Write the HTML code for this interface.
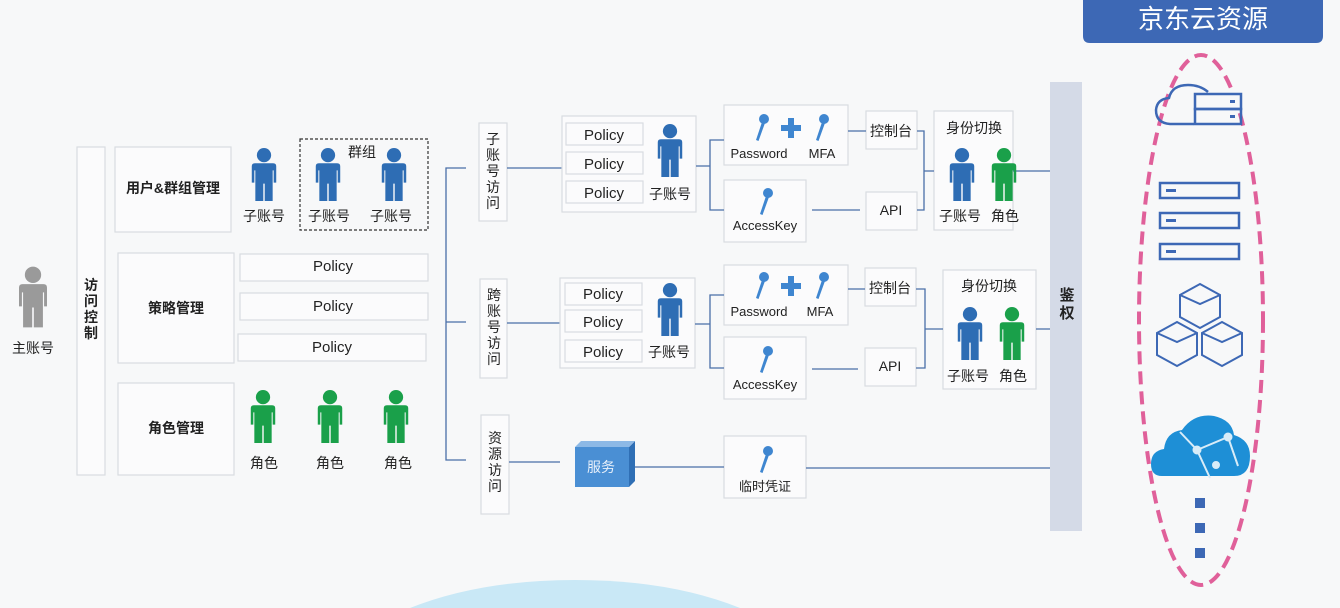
<!DOCTYPE html>
<html><head><meta charset="utf-8"><style>
html,body{margin:0;padding:0;background:#f7f8f9;width:1340px;height:608px;overflow:hidden;}
svg{display:block;overflow:hidden}
text{font-family:"Liberation Sans","Noto Sans CJK SC",sans-serif;fill:#222;}
</style></head><body>
<svg width="1340" height="608" viewBox="0 0 1340 608" xmlns="http://www.w3.org/2000/svg">
<defs>
<symbol id="p" viewBox="0 0 24 52">
<circle cx="12" cy="7" r="7"/>
<path d="M3 15 h18 q3 0 3 3 v16 h-2.5 v-12 h-1 v30 h-7.8 v-17 h-1.4 v17 h-7.8 v-30 h-1 v12 h-2.5 v-16 q0-3 3-3z"/>
</symbol>
<symbol id="k" viewBox="0 0 20 30">
<circle cx="12" cy="6" r="5"/>
<path d="M10 9 L4 27 L6.5 28 L13 10z"/>
</symbol>
</defs>
<rect width="1340" height="608" fill="#f7f8f9"/>
<path d="M410 608 Q480 580 575 580 Q670 580 740 608 Z" fill="#c9e8f6"/>

<g fill="none" stroke="#d9dce1" stroke-width="1.2">
<rect x="77" y="147" width="28" height="328" fill="#fbfbfc"/>
<rect x="115" y="147" width="116" height="85" fill="#fbfbfc"/>
<rect x="118" y="253" width="116" height="110" fill="#fbfbfc"/>
<rect x="118" y="383" width="116" height="92" fill="#fbfbfc"/>
<rect x="240" y="254" width="188" height="27" fill="#fbfbfc"/>
<rect x="240" y="293" width="188" height="27" fill="#fbfbfc"/>
<rect x="238" y="334" width="188" height="27" fill="#fbfbfc"/>
<rect x="479" y="123" width="28" height="98" fill="#fbfbfc"/>
<rect x="480" y="279" width="27" height="99" fill="#fbfbfc"/>
<rect x="481" y="415" width="28" height="99" fill="#fbfbfc"/>
<rect x="724" y="436" width="82" height="62" fill="#fbfbfc"/>
</g>
<rect x="300" y="139" width="128" height="91" fill="none" stroke="#333" stroke-width="1.2" stroke-dasharray="3 2"/>

<g font-size="14" font-weight="bold" text-anchor="middle">
<text x="173" y="193">用户&amp;群组管理</text>
<text x="176" y="313">策略管理</text>
<text x="176" y="433">角色管理</text>
</g>
<g font-size="14" font-weight="bold" text-anchor="middle">
<text x="91" y="290">访</text><text x="91" y="306">问</text><text x="91" y="322">控</text><text x="91" y="338">制</text>
</g>
<g font-size="15" text-anchor="middle" fill="#333">
<text x="333" y="271">Policy</text><text x="333" y="311">Policy</text><text x="332" y="352">Policy</text>
</g>
<use href="#p" x="19" y="262" width="28" height="70" fill="#9a9a9a"/>
<text x="33" y="353" font-size="14" text-anchor="middle">主账号</text>
<g fill="#2e6db4">
<use href="#p" x="251" y="148" width="26" height="53"/>
<use href="#p" x="315" y="148" width="26" height="53"/>
<use href="#p" x="381" y="148" width="26" height="53"/>
</g>
<g font-size="14" text-anchor="middle">
<text x="264" y="221">子账号</text><text x="329" y="221">子账号</text><text x="391" y="221">子账号</text>
<text x="362" y="157">群组</text>
</g>
<g fill="#1aa04a">
<use href="#p" x="250" y="390" width="26" height="53"/>
<use href="#p" x="317" y="390" width="26" height="53"/>
<use href="#p" x="383" y="390" width="26" height="53"/>
</g>
<g font-size="14" text-anchor="middle">
<text x="264" y="468">角色</text><text x="330" y="468">角色</text><text x="398" y="468">角色</text>
</g>

<g stroke="#4a6fa8" stroke-width="1.3" fill="none">
<path d="M466 168 H446 V460 H466 M446 322 H466"/>
<path d="M507 168 H562 M507 323 H560 M509 462 H560 M635 467 H724 M806 468 H1050"/>
</g>

<g font-size="14" text-anchor="middle">
<text x="493" y="144">子</text><text x="493" y="160">账</text><text x="493" y="176">号</text><text x="493" y="192">访</text><text x="493" y="208">问</text>
<text x="494" y="300">跨</text><text x="494" y="316">账</text><text x="494" y="332">号</text><text x="494" y="348">访</text><text x="494" y="364">问</text>
<text x="495" y="443">资</text><text x="495" y="459">源</text><text x="495" y="475">访</text><text x="495" y="491">问</text>
</g>

<g>
<g fill="#fbfbfc" stroke="#d9dce1" stroke-width="1.2">
<rect x="562" y="116" width="134" height="96"/>
<rect x="566" y="123" width="77" height="22"/><rect x="566" y="152" width="77" height="22"/><rect x="566" y="181" width="77" height="22"/>
<rect x="724" y="105" width="124" height="60"/>
<rect x="724" y="180" width="82" height="62"/>
<rect x="866" y="111" width="51" height="38"/>
<rect x="866" y="192" width="51" height="38"/>
<rect x="934" y="111" width="79" height="119"/>
</g>
<g font-size="15" text-anchor="middle" fill="#333"><text x="604" y="140">Policy</text><text x="604" y="169">Policy</text><text x="604" y="198">Policy</text></g>
<use href="#p" x="657" y="124" width="26" height="53" fill="#2e6db4"/>
<text x="670" y="199" font-size="14" text-anchor="middle">子账号</text>
<g stroke="#4a6fa8" stroke-width="1.3" fill="none">
<path d="M696 166 H710 M724 140 H710 V210 H724 M848 131 H866 M812 210 H860 M917 131 H924 V210 H917 M924 171 H934 M1013 171 H1050"/>
</g>
<g fill="#3f86d0">
<use href="#k" x="752" y="113" width="20" height="30"/>
<use href="#k" x="812" y="113" width="20" height="30"/>
<use href="#k" x="756" y="187" width="20" height="30"/>
<path d="M788 118 h6 v7 h7 v6 h-7 v7 h-6 v-7 h-7 v-6 h7z"/>
</g>
<g font-size="13" text-anchor="middle" fill="#222"><text x="759" y="158">Password</text><text x="822" y="158">MFA</text><text x="765" y="230">AccessKey</text></g>
<g font-size="14" text-anchor="middle"><text x="891" y="136">控制台</text><text x="891" y="215">API</text><text x="974" y="133">身份切换</text><text x="960" y="221">子账号</text><text x="1005" y="221">角色</text></g>
<use href="#p" x="949" y="148" width="26" height="53" fill="#2e6db4"/>
<use href="#p" x="991" y="148" width="26" height="53" fill="#1aa04a"/>
</g>

<g>
<g fill="#fbfbfc" stroke="#d9dce1" stroke-width="1.2">
<rect x="560" y="278" width="135" height="90"/>
<rect x="565" y="283" width="77" height="22"/><rect x="565" y="310" width="77" height="22"/><rect x="565" y="340" width="77" height="22"/>
<rect x="724" y="265" width="124" height="60"/>
<rect x="724" y="337" width="82" height="62"/>
<rect x="865" y="268" width="51" height="38"/>
<rect x="865" y="348" width="51" height="38"/>
<rect x="943" y="270" width="93" height="119"/>
</g>
<g font-size="15" text-anchor="middle" fill="#333"><text x="603" y="299">Policy</text><text x="603" y="327">Policy</text><text x="603" y="357">Policy</text></g>
<use href="#p" x="657" y="283" width="26" height="53" fill="#2e6db4"/>
<text x="669" y="357" font-size="14" text-anchor="middle">子账号</text>
<g stroke="#4a6fa8" stroke-width="1.3" fill="none">
<path d="M695 324 H710 M724 295 H710 V368 H724 M848 289 H865 M812 369 H858 M916 289 H925 V368 H916 M925 329 H943 M1036 329 H1050"/>
</g>
<g fill="#3f86d0">
<use href="#k" x="752" y="271" width="20" height="30"/>
<use href="#k" x="812" y="271" width="20" height="30"/>
<use href="#k" x="756" y="345" width="20" height="30"/>
<path d="M788 276 h6 v7 h7 v6 h-7 v7 h-6 v-7 h-7 v-6 h7z"/>
</g>
<g font-size="13" text-anchor="middle" fill="#222"><text x="759" y="316">Password</text><text x="820" y="316">MFA</text><text x="765" y="389">AccessKey</text></g>
<g font-size="14" text-anchor="middle"><text x="890" y="293">控制台</text><text x="890" y="371">API</text><text x="989" y="291">身份切换</text><text x="968" y="381">子账号</text><text x="1013" y="381">角色</text></g>
<use href="#p" x="957" y="307" width="26" height="53" fill="#2e6db4"/>
<use href="#p" x="999" y="307" width="26" height="53" fill="#1aa04a"/>
</g>

<polygon points="575,447 629,447 635,441 635,481 629,487 575,487" fill="#2f6fb5"/>
<rect x="575" y="447" width="54" height="40" fill="#4a8fd4"/>
<polygon points="575,447 629,447 635,441 581,441" fill="#8db9e6"/>
<text x="601" y="472" font-size="14" text-anchor="middle" style="fill:#e8f0fa">服务</text>
<use href="#k" x="756" y="445" width="20" height="30" fill="#3f86d0"/>
<text x="765" y="491" font-size="13" text-anchor="middle">临时凭证</text>

<rect x="1050" y="82" width="32" height="449" fill="#d4dae7"/>
<g font-size="15" font-weight="bold" text-anchor="middle" fill="#1d3d6b"><text x="1067" y="300">鉴</text><text x="1067" y="318">权</text></g>

<path d="M1083 0 H1323 V36 Q1323 43 1316 43 H1090 Q1083 43 1083 36Z" fill="#3d68b5"/>
<text x="1203" y="28" font-size="26" text-anchor="middle" style="fill:#fff">京东云资源</text>
<ellipse cx="1201" cy="320" rx="62" ry="265" fill="none" stroke="#e0609a" stroke-width="4" stroke-dasharray="13 7"/>

<g stroke="#3d68b5" stroke-width="2.5" fill="none">
<path d="M1194 124 H1170 Q1156 123 1156 110 Q1157 99 1169 98 Q1172 85 1188 85 Q1200 85 1208 92"/>
<rect x="1195" y="94" width="46" height="15" fill="#f7f8f9"/><rect x="1195" y="109" width="46" height="15"/>
<rect x="1160" y="183" width="79" height="15"/><rect x="1160" y="213" width="79" height="15"/><rect x="1160" y="244" width="79" height="15"/>
<g stroke-width="2">
<path d="M1200 284 l20 11 v22 l-20 11 l-20 -11 v-22z M1180 295 l20 9 l20 -9"/>
<path d="M1177 322 l20 11 v22 l-20 11 l-20 -11 v-22z M1157 333 l20 9 l20 -9"/>
<path d="M1222 322 l20 11 v22 l-20 11 l-20 -11 v-22z M1202 333 l20 9 l20 -9"/>
</g>
</g>
<g fill="#3d68b5"><rect x="1230" y="100" width="5" height="3"/><rect x="1230" y="115" width="5" height="3"/>
<rect x="1166" y="189" width="10" height="3"/><rect x="1166" y="219" width="10" height="3"/><rect x="1166" y="250" width="10" height="3"/></g>
<path d="M1162 476 Q1151 476 1151 464 Q1151 451 1164 449 Q1166 432 1182 430 Q1194 413 1214 416 Q1232 420 1234 435 Q1250 440 1250 456 Q1250 476 1234 476Z" fill="#1e8fd6"/>
<g stroke="#d8ecf8" stroke-width="2" fill="#d8ecf8"><path d="M1180 432 L1197 450 L1210 478 M1197 450 L1228 437 L1238 466" fill="none"/><circle cx="1197" cy="450" r="3.5"/><circle cx="1228" cy="437" r="3.5"/><circle cx="1216" cy="465" r="3"/></g>
<g fill="#3d68b5"><rect x="1195" y="498" width="10" height="10"/><rect x="1195" y="523" width="10" height="10"/><rect x="1195" y="548" width="10" height="10"/></g>
</svg>
</body></html>
